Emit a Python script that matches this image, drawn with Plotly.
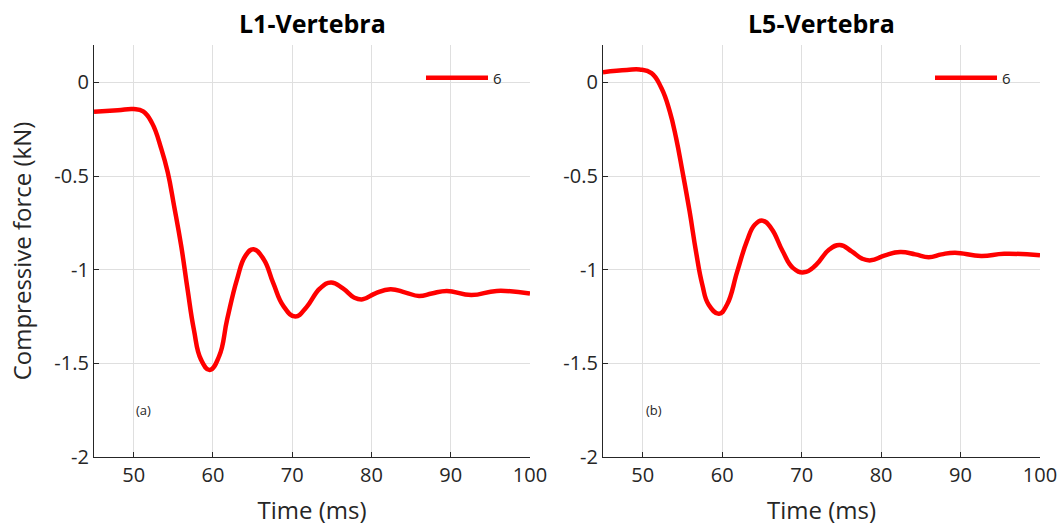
import plotly.graph_objects as go

# L1-Vertebra (subplot a)
t_l1 = [45.0, 48.0, 50.0, 51.2, 52.3, 53.5, 54.3, 55.1, 56.0, 56.8, 57.6, 58.5, 59.6, 60.8, 61.8,
        63.05, 64.1, 65.1, 66.4, 67.6, 68.9, 70.4, 71.8, 73.5, 74.9, 76.4, 77.8, 78.9, 80.5, 82.4,
        84.3, 86.0, 87.6, 89.5, 92.6, 95.8, 100.0]
f_l1 = [-0.156, -0.148, -0.142, -0.155, -0.215, -0.356, -0.48, -0.659, -0.873, -1.104, -1.32, -1.48,
        -1.535, -1.46, -1.265, -1.05, -0.926, -0.89, -0.944, -1.07, -1.194, -1.25, -1.2, -1.10,
        -1.068, -1.10, -1.148, -1.158, -1.126, -1.104, -1.122, -1.14, -1.127, -1.113, -1.135,
        -1.113, -1.127]

# L5-Vertebra (subplot b)
t_l5 = [45.0, 48.0, 49.6, 51.1, 52.35, 53.4, 54.2, 55.0, 55.9, 56.7, 57.5, 58.3, 59.6, 60.6, 61.9,
        63.1, 64.1, 65.1, 66.2, 67.6, 68.9, 70.3, 71.8, 73.4, 74.8, 76.3, 77.6, 78.7, 80.5, 82.4,
        84.3, 86.0, 87.6, 89.3, 92.6, 95.5, 100.0]
f_l5 = [0.055, 0.066, 0.069, 0.05, -0.030, -0.155, -0.297, -0.475, -0.689, -0.902, -1.08, -1.187,
        -1.235, -1.187, -1.009, -0.849, -0.76, -0.738, -0.78, -0.90, -0.99, -1.014, -0.975,
        -0.895, -0.868, -0.902, -0.941, -0.95, -0.923, -0.906, -0.918, -0.933, -0.918, -0.909,
        -0.927, -0.915, -0.923]

series_name = "6"
titles = ["L1-Vertebra", "L5-Vertebra"]
panel_labels = ["(a)", "(b)"]
x_ticks = [50, 60, 70, 80, 90, 100]
y_ticks = [-2, -1.5, -1, -0.5, 0]
y_tick_text = ["-2", "-1.5", "-1", "-0.5", "0"]

W, H = 1061, 528
FONT = "Open Sans"
TXT = "#262626"
GRID = "#dfdfdf"

fig = go.Figure()
fig.add_trace(go.Scatter(x=t_l1, y=f_l1, mode="lines", name=series_name,
                         line=dict(color="#ff0000", width=4.5, shape="spline", smoothing=1.3),
                         xaxis="x", yaxis="y", legend="legend"))
fig.add_trace(go.Scatter(x=t_l5, y=f_l5, mode="lines", name=series_name,
                         line=dict(color="#ff0000", width=4.5, shape="spline", smoothing=1.3),
                         xaxis="x2", yaxis="y2", legend="legend2"))

def px_x(p):
    return p / W

def px_y(p):
    return (H - p) / H

xdom1 = [px_x(94), px_x(530)]
xdom2 = [px_x(603), px_x(1040)]
ydom = [px_y(457), px_y(45)]

axis_common = dict(showgrid=True, gridcolor=GRID, gridwidth=1, zeroline=False,
                   showline=True, linecolor=TXT, linewidth=1.2, ticks="inside", ticklen=5,
                   tickcolor=TXT, tickfont=dict(family=FONT, size=20, color=TXT),
                   mirror=False, automargin=False)
title_font = dict(family=FONT, size=24, color=TXT)
legend_common = dict(xanchor="left", yanchor="middle", itemwidth=62,
                     bgcolor="rgba(0,0,0,0)", font=dict(family=FONT, size=15, color=TXT))

fig.update_layout(
    width=W, height=H,
    margin=dict(l=0, r=0, t=0, b=0, autoexpand=False),
    paper_bgcolor="white", plot_bgcolor="white",
    font=dict(family=FONT, color=TXT),
    xaxis=dict(domain=xdom1, range=[45, 100], tickvals=x_ticks, anchor="y",
               title=dict(text="Time (ms)", font=title_font), **axis_common),
    yaxis=dict(domain=ydom, range=[-2, 0.2], tickvals=y_ticks, ticktext=y_tick_text, anchor="x",
               title=dict(text="Compressive force (kN)", font=title_font), **axis_common),
    xaxis2=dict(domain=xdom2, range=[45, 100], tickvals=x_ticks, anchor="y2",
                title=dict(text="Time (ms)", font=title_font), **axis_common),
    yaxis2=dict(domain=ydom, range=[-2, 0.2], tickvals=y_ticks, ticktext=y_tick_text, anchor="x2",
                **axis_common),
    legend=dict(x=px_x(421), y=px_y(78), **legend_common),
    legend2=dict(x=px_x(930), y=px_y(78), **legend_common),
    showlegend=True,
)

for i, (xd, title) in enumerate(zip([xdom1, xdom2], titles)):
    fig.add_annotation(x=(xd[0] + xd[1]) / 2, y=px_y(23), xref="paper", yref="paper",
                       text="<b>%s</b>" % title, showarrow=False,
                       font=dict(family=FONT, size=25, color="#000000"),
                       xanchor="center", yanchor="middle")

fig.add_annotation(x=51.3, y=-1.75, xref="x", yref="y", text=panel_labels[0], showarrow=False,
                   font=dict(family=FONT, size=13, color=TXT), xanchor="center", yanchor="middle")
fig.add_annotation(x=51.4, y=-1.75, xref="x2", yref="y2", text=panel_labels[1], showarrow=False,
                   font=dict(family=FONT, size=13, color=TXT), xanchor="center", yanchor="middle")

fig.write_html("out.html")
